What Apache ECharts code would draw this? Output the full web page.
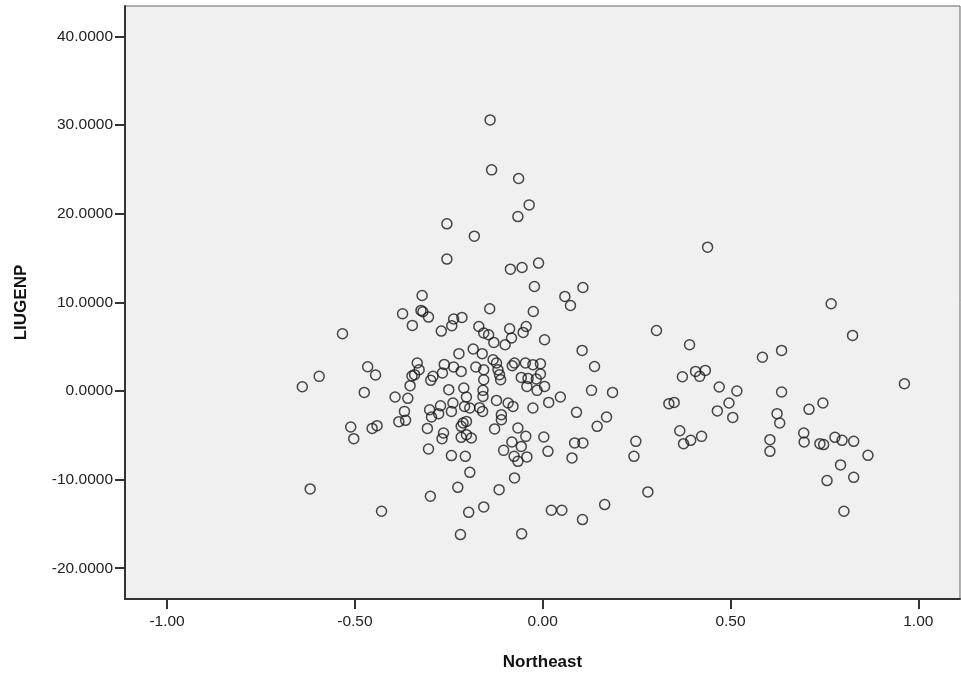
<!DOCTYPE html>
<html>
<head>
<meta charset="utf-8">
<title>LIUGENP vs Northeast</title>
<script src="https://cdn.jsdelivr.net/npm/echarts@6/dist/echarts.min.js"></script>
<style>
  html, body { margin: 0; padding: 0; background: #ffffff; }
  #chart { width: 961px; height: 675px; }
</style>
</head>
<body>
<div id="chart"></div>
<script>
// Observations: Northeast (x) and LIUGENP (y)
const northeast = [
  -0.321, -0.373, -0.324, -0.319, -0.304, -0.347, -0.270, -0.533, -0.466, -0.445,
  -0.595, -0.640, -0.475, -0.334, -0.329, -0.348, -0.341, -0.353, -0.292, -0.298,
  -0.267, -0.262, -0.393, -0.359, -0.368, -0.383, -0.301, -0.272,
  -0.365, -0.511, -0.503, -0.454, -0.441, -0.296, -0.277, -0.307, -0.264, -0.268,
  -0.304, -0.619, -0.429, -0.299,
  -0.140, -0.136, -0.064, -0.036, -0.066, -0.255, -0.182, -0.255, -0.086, -0.055,
  -0.011, -0.022, 0.059, 0.107,
  0.074, -0.141, -0.025, -0.215, -0.237, -0.242, -0.170, -0.157, -0.144, -0.130,
  -0.100, -0.088, -0.083, -0.052, -0.044, 0.005, 0.105, -0.223, -0.185, -0.161,
  -0.132, -0.123, -0.237, -0.217, -0.178, -0.157, -0.119, -0.115, -0.112, -0.157,
  -0.081, -0.075, -0.046, -0.026, -0.006, -0.057, -0.039, -0.017, -0.006, -0.042,
  -0.015, 0.005, -0.250, -0.210, -0.159, -0.203, -0.159, -0.123, -0.092, -0.079,
  -0.026, 0.016, 0.047, 0.090, -0.243, -0.208, -0.194, -0.168, -0.160, -0.110,
  -0.239, -0.110, -0.212, -0.217, -0.203, -0.217, -0.190, -0.203, -0.128, -0.066,
  -0.045, -0.082, -0.057, -0.104, -0.076, -0.066, -0.042, 0.003, 0.014, 0.085,
  0.107, 0.078, -0.243, -0.206, -0.194, -0.075, -0.226, -0.116, -0.197, -0.157,
  0.023, 0.051, 0.106, -0.219, -0.056,
  0.439, 0.303, 0.391, 0.138, 0.585, 0.407, 0.433, 0.418, 0.372, 0.130,
  0.186, 0.470, 0.517, 0.496, 0.336, 0.350,
  0.465, 0.506, 0.170, 0.145, 0.248, 0.243, 0.365, 0.375, 0.394, 0.423,
  0.280, 0.165,
  0.768, 0.825, 0.636, 0.963, 0.636, 0.709, 0.746, 0.624, 0.631, 0.605,
  0.605, 0.695, 0.696, 0.738, 0.748, 0.778, 0.797, 0.828, 0.866, 0.793,
  0.828, 0.757, 0.802
];
const liugenp = [
  10.78, 8.71, 9.09, 8.94, 8.34, 7.40, 6.76, 6.46, 2.74, 1.80,
  1.65, 0.48, -0.16, 3.16, 2.40, 1.69, 1.84, 0.60, 1.65, 1.20,
  2.03, 3.00, -0.68, -0.83, -2.30, -3.46, -2.11, -1.66,
  -3.31, -4.06, -5.38, -4.22, -3.91, -2.93, -2.56, -4.22, -4.74, -5.38,
  -6.54, -11.05, -13.57, -11.88,
  30.59, 24.95, 23.97, 21.00, 19.68, 18.86, 17.47, 14.88, 13.75, 13.93,
  14.43, 11.79, 10.67, 11.68,
  9.65, 9.28, 8.97, 8.30, 8.12, 7.36, 7.28, 6.54, 6.35, 5.48,
  5.22, 7.02, 5.98, 6.61, 7.28, 5.78, 4.58, 4.21, 4.74, 4.21,
  3.53, 3.16, 2.71, 2.21, 2.71, 2.40, 2.40, 1.84, 1.27, 1.27,
  2.85, 3.16, 3.16, 2.97, 3.08, 1.53, 1.42, 1.35, 1.92, 0.52,
  0.07, 0.52, 0.15, 0.34, 0.07, -0.68, -0.61, -1.06, -1.35, -1.74,
  -1.92, -1.29, -0.68, -2.41, -2.30, -1.74, -1.92, -1.88, -2.30, -2.67,
  -1.35, -3.24, -3.61, -3.99, -3.43, -5.23, -5.30, -4.93, -4.28, -4.17,
  -5.12, -5.75, -6.25, -6.70, -7.37, -7.94, -7.44, -5.19, -6.81, -5.86,
  -5.86, -7.55, -7.29, -7.37, -9.18, -9.81, -10.87, -11.13, -13.69, -13.08,
  -13.46, -13.46, -14.51, -16.20, -16.12,
  16.23, 6.83, 5.22, 2.77, 3.81, 2.21, 2.32, 1.65, 1.61, 0.07,
  -0.16, 0.45, 0.00, -1.35, -1.43, -1.29,
  -2.25, -2.98, -2.93, -3.99, -5.68, -7.37, -4.48, -5.94, -5.57, -5.12,
  -11.39, -12.82,
  9.84, 6.27, 4.58, 0.82, -0.11, -2.07, -1.35, -2.56, -3.61, -5.49,
  -6.81, -4.74, -5.75, -5.94, -6.05, -5.23, -5.57, -5.68, -7.26, -8.34,
  -9.74, -10.11, -13.57
];

// Tick positions shown on each axis
const xTicks = [-1.0, -0.5, 0.0, 0.5, 1.0];
const yTicks = [-20, -10, 0, 10, 20, 30, 40];

const points = northeast.map((x, i) => [x, liugenp[i]]);

const FONT = '"Liberation Sans", Arial, Helvetica, sans-serif';
const AXIS_COLOR = '#333333';

const chart = echarts.init(document.getElementById('chart'), null, { renderer: 'canvas' });

chart.setOption({
  animation: false,
  backgroundColor: '#ffffff',
  grid: {
    left: 125,
    top: 6,
    width: 835,
    height: 593,
    show: true,
    backgroundColor: '#f0f0f0',
    borderColor: '#666666',
    borderWidth: 1,
    containLabel: false,
    outerBoundsMode: 'none'
  },
  xAxis: {
    type: 'value',
    min: -1.112,
    max: 1.111,
    name: 'Northeast',
    nameLocation: 'middle',
    nameGap: 55,
    nameTextStyle: { fontFamily: FONT, fontWeight: 'bold', fontSize: 17, color: '#111' },
    axisLine: { show: true, onZero: false, lineStyle: { color: AXIS_COLOR, width: 2 } },
    axisTick: { show: true, length: 10, customValues: xTicks, lineStyle: { color: AXIS_COLOR, width: 2 } },
    axisLabel: {
      customValues: xTicks,
      formatter: v => v.toFixed(2),
      fontFamily: FONT, fontSize: 15.5, color: '#222', margin: 15
    },
    splitLine: { show: false }
  },
  yAxis: {
    type: 'value',
    min: -23.47,
    max: 43.44,
    name: 'LIUGENP',
    nameLocation: 'middle',
    nameGap: 95,
    nameRotate: 90,
    nameTextStyle: { fontFamily: FONT, fontWeight: 'bold', fontSize: 17, color: '#111' },
    axisLine: { show: true, onZero: false, lineStyle: { color: AXIS_COLOR, width: 2 } },
    axisTick: { show: true, length: 10, customValues: yTicks, lineStyle: { color: AXIS_COLOR, width: 2 } },
    axisLabel: {
      customValues: yTicks,
      formatter: v => v.toFixed(4),
      fontFamily: FONT, fontSize: 15.5, color: '#222', margin: 12
    },
    splitLine: { show: false }
  },
  series: [{
    type: 'scatter',
    data: points,
    symbol: 'circle',
    symbolSize: 10,
    itemStyle: { color: 'rgba(0,0,0,0)', borderColor: '#1a1a1a', borderWidth: 1.5 },
    emphasis: { disabled: true }
  }]
});
</script>
</body>
</html>
